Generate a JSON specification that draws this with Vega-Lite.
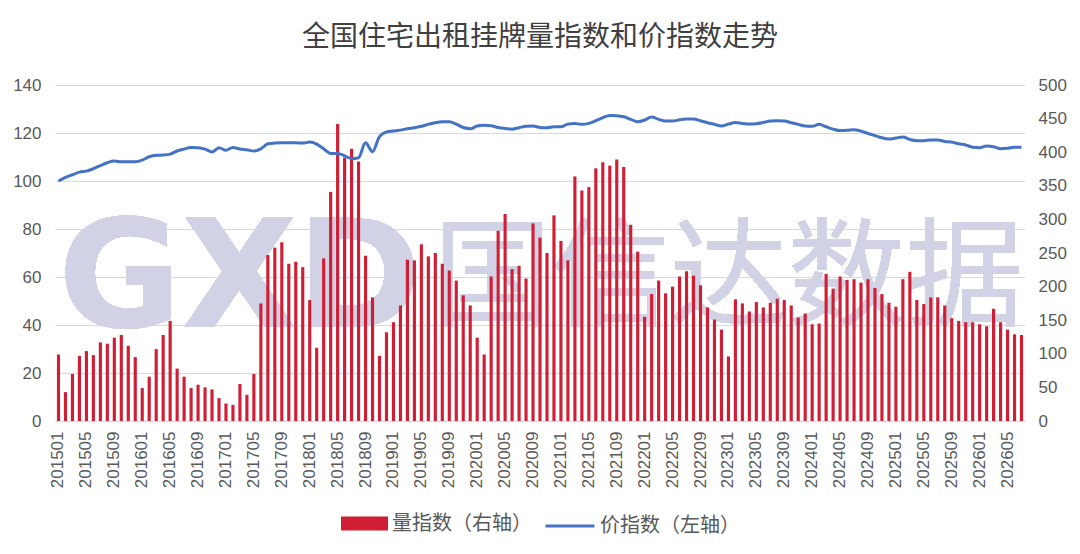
{
  "$schema": "https://vega.github.io/schema/vega-lite/v6.json",
  "autosize": "none",
  "width": 970,
  "height": 336,
  "padding": {"left": 55, "top": 85, "right": 55, "bottom": 133},
  "background": "white",
  "title": {"text": "全国住宅出租挂牌量指数和价指数走势", "font": "Noto Sans CJK SC", "fontSize": 28, "fontWeight": "normal", "color": "#404040", "anchor": "middle", "offset": 24},
  "data": {"values": [
    {"month":"201501","vol":99,"price":100.0},{"month":"201502","vol":43,"price":101.5},{"month":"201503","vol":70,"price":102.6},{"month":"201504","vol":97,"price":103.7},
    {"month":"201505","vol":104,"price":104.1},{"month":"201506","vol":98,"price":105.1},{"month":"201507","vol":117,"price":106.4},{"month":"201508","vol":115,"price":107.6},
    {"month":"201509","vol":124,"price":108.3},{"month":"201510","vol":128,"price":108.0},{"month":"201511","vol":112,"price":108.0},{"month":"201512","vol":95,"price":108.0},
    {"month":"201601","vol":49,"price":108.7},{"month":"201602","vol":66,"price":110.1},{"month":"201603","vol":107,"price":110.7},{"month":"201604","vol":128,"price":110.8},
    {"month":"201605","vol":149,"price":111.2},{"month":"201606","vol":78,"price":112.5},{"month":"201607","vol":66,"price":113.3},{"month":"201608","vol":49,"price":114.0},
    {"month":"201609","vol":54,"price":113.9},{"month":"201610","vol":50,"price":113.3},{"month":"201611","vol":47,"price":112.1},{"month":"201612","vol":34,"price":113.9},
    {"month":"201701","vol":26,"price":112.8},{"month":"201702","vol":24,"price":114.0},{"month":"201703","vol":55,"price":113.3},{"month":"201704","vol":39,"price":113.0},
    {"month":"201705","vol":70,"price":112.5},{"month":"201706","vol":175,"price":113.4},{"month":"201707","vol":247,"price":115.5},{"month":"201708","vol":258,"price":115.8},
    {"month":"201709","vol":266,"price":115.9},{"month":"201710","vol":234,"price":115.9},{"month":"201711","vol":237,"price":115.9},{"month":"201712","vol":229,"price":115.8},
    {"month":"201801","vol":180,"price":116.2},{"month":"201802","vol":109,"price":115.4},{"month":"201803","vol":242,"price":113.4},{"month":"201804","vol":341,"price":111.5},
    {"month":"201805","vol":442,"price":111.5},{"month":"201806","vol":392,"price":110.5},{"month":"201807","vol":405,"price":109.3},{"month":"201808","vol":386,"price":109.7},
    {"month":"201809","vol":246,"price":115.9},{"month":"201810","vol":184,"price":112.2},{"month":"201811","vol":97,"price":118.5},{"month":"201812","vol":132,"price":120.4},
    {"month":"201901","vol":147,"price":120.8},{"month":"201902","vol":172,"price":121.2},{"month":"201903","vol":240,"price":121.8},{"month":"201904","vol":239,"price":122.2},
    {"month":"201905","vol":263,"price":122.8},{"month":"201906","vol":245,"price":123.6},{"month":"201907","vol":250,"price":124.3},{"month":"201908","vol":234,"price":124.7},
    {"month":"201909","vol":224,"price":124.7},{"month":"201910","vol":209,"price":123.7},{"month":"201911","vol":187,"price":122.3},{"month":"201912","vol":172,"price":121.8},
    {"month":"202001","vol":124,"price":122.9},{"month":"202002","vol":99,"price":123.2},{"month":"202003","vol":215,"price":123.0},{"month":"202004","vol":283,"price":122.3},
    {"month":"202005","vol":308,"price":121.9},{"month":"202006","vol":226,"price":121.6},{"month":"202007","vol":231,"price":122.2},{"month":"202008","vol":212,"price":122.8},
    {"month":"202009","vol":294,"price":122.9},{"month":"202010","vol":273,"price":122.3},{"month":"202011","vol":250,"price":122.2},{"month":"202012","vol":306,"price":122.6},
    {"month":"202101","vol":268,"price":122.6},{"month":"202102","vol":239,"price":123.7},{"month":"202103","vol":364,"price":124.0},{"month":"202104","vol":343,"price":123.6},
    {"month":"202105","vol":348,"price":124.0},{"month":"202106","vol":376,"price":125.1},{"month":"202107","vol":385,"price":126.4},{"month":"202108","vol":380,"price":127.3},
    {"month":"202109","vol":389,"price":127.2},{"month":"202110","vol":378,"price":126.8},{"month":"202111","vol":292,"price":125.7},{"month":"202112","vol":252,"price":124.7},
    {"month":"202201","vol":155,"price":125.4},{"month":"202202","vol":189,"price":126.7},{"month":"202203","vol":209,"price":125.7},{"month":"202204","vol":190,"price":125.0},
    {"month":"202205","vol":200,"price":125.0},{"month":"202206","vol":215,"price":125.5},{"month":"202207","vol":223,"price":125.8},{"month":"202208","vol":216,"price":125.8},
    {"month":"202209","vol":202,"price":125.1},{"month":"202210","vol":169,"price":124.3},{"month":"202211","vol":151,"price":123.6},{"month":"202212","vol":136,"price":122.9},
    {"month":"202301","vol":96,"price":123.7},{"month":"202302","vol":181,"price":124.4},{"month":"202303","vol":175,"price":124.0},{"month":"202304","vol":163,"price":123.7},
    {"month":"202305","vol":177,"price":123.9},{"month":"202306","vol":169,"price":124.4},{"month":"202307","vol":176,"price":125.0},{"month":"202308","vol":182,"price":125.1},
    {"month":"202309","vol":180,"price":125.0},{"month":"202310","vol":172,"price":124.3},{"month":"202311","vol":154,"price":123.6},{"month":"202312","vol":160,"price":122.9},
    {"month":"202401","vol":144,"price":122.8},{"month":"202402","vol":145,"price":123.6},{"month":"202403","vol":219,"price":122.6},{"month":"202404","vol":197,"price":121.6},
    {"month":"202405","vol":215,"price":121.0},{"month":"202406","vol":210,"price":121.1},{"month":"202407","vol":211,"price":121.4},{"month":"202408","vol":206,"price":120.8},
    {"month":"202409","vol":211,"price":119.8},{"month":"202410","vol":198,"price":118.9},{"month":"202411","vol":189,"price":118.0},{"month":"202412","vol":176,"price":117.5},
    {"month":"202501","vol":170,"price":117.9},{"month":"202502","vol":211,"price":118.3},{"month":"202503","vol":222,"price":117.3},{"month":"202504","vol":180,"price":116.8},
    {"month":"202505","vol":174,"price":116.8},{"month":"202506","vol":184,"price":117.1},{"month":"202507","vol":184,"price":117.1},{"month":"202508","vol":172,"price":116.5},
    {"month":"202509","vol":153,"price":116.2},{"month":"202510","vol":149,"price":115.5},{"month":"202511","vol":147,"price":115.0},{"month":"202512","vol":147,"price":114.1},
    {"month":"202601","vol":144,"price":113.9},{"month":"202602","vol":141,"price":114.6},{"month":"202603","vol":167,"price":114.3},{"month":"202604","vol":147,"price":113.4},
    {"month":"202605","vol":136,"price":113.6},{"month":"202606","vol":129,"price":114.1},{"month":"202607","vol":128,"price":114.1}
  ]},
  "encoding": {
    "x": {
      "field": "month", "type": "ordinal",
      "scale": {"paddingInner": 0, "paddingOuter": 0},
      "axis": {
        "title": null,
        "values": ["201501","201505","201509","201601","201605","201609","201701","201705","201709","201801","201805","201809","201901","201905","201909","202001","202005","202009","202101","202105","202109","202201","202205","202209","202301","202305","202309","202401","202405","202409","202501","202505","202509","202601","202605"],
        "labelAngle": -90, "labelFontSize": 17, "labelFont": "Liberation Sans", "labelColor": "#595959",
        "ticks": false, "domainColor": "#d9d9d9", "domainWidth": 1, "labelPadding": 10, "grid": false
      }
    }
  },
  "layer": [
    {
      "layer": [
        {
          "mark": {"type": "text", "font": "DejaVu Sans", "fontWeight": "bold", "fontSize": 150, "fill": "#D2D2E6", "baseline": "middle", "align": "center"},
          "encoding": {
            "x": {"datum": "201703", "type": "ordinal"},
            "y": {"datum": 207, "type": "quantitative",
              "axis": {"orient": "right", "title": null, "values": [0,50,100,150,200,250,300,350,400,450,500], "grid": false, "domain": false, "ticks": false, "labelPadding": 13, "labelFontSize": 17, "labelFont": "Liberation Sans", "labelColor": "#595959"}},
            "text": {"value": "GXD"}
          }
        },
        {
          "mark": {"type": "text", "font": "Noto Sans CJK SC", "fontSize": 118, "fill": "#D2D2E6", "baseline": "middle", "align": "center"},
          "encoding": {
            "x": {"datum": "202301", "type": "ordinal"},
            "y": {"datum": 207, "type": "quantitative",
              "axis": {"orient": "right", "title": null, "values": [0,50,100,150,200,250,300,350,400,450,500], "grid": false, "domain": false, "ticks": false, "labelPadding": 13, "labelFontSize": 17, "labelFont": "Liberation Sans", "labelColor": "#595959"}},
            "text": {"value": "国信达数据"}
          }
        },
        {
          "mark": {"type": "bar", "width": {"band": 0.45}},
          "encoding": {
            "y": {
              "field": "vol", "type": "quantitative",
              "scale": {"domain": [0, 500], "nice": false},
              "axis": {"orient": "right", "title": null, "values": [0,50,100,150,200,250,300,350,400,450,500], "grid": false, "domain": false, "ticks": false, "labelPadding": 13, "labelFontSize": 17, "labelFont": "Liberation Sans", "labelColor": "#595959"}
            },
            "fill": {
              "datum": "量指数（右轴）",
              "scale": {"range": ["#D01E35"]},
              "legend": {"title": null, "orient": "bottom", "symbolType": "M-1,-0.3H1V0.3H-1Z", "symbolSize": 2209, "symbolStrokeWidth": 0, "labelFontSize": 20, "labelFont": "Noto Sans CJK SC", "labelColor": "#595959", "labelLimit": 300, "offset": 12}
            }
          }
        }
      ]
    },
    {
      "mark": {"type": "line", "strokeWidth": 3, "interpolate": "monotone"},
      "encoding": {
        "y": {
          "field": "price", "type": "quantitative",
          "scale": {"domain": [0, 140], "nice": false},
          "axis": {"orient": "left", "title": null, "values": [0,20,40,60,80,100,120,140], "grid": true, "gridColor": "#d9d9d9", "gridWidth": 1, "domain": false, "ticks": false, "labelPadding": 14, "labelFontSize": 17, "labelFont": "Liberation Sans", "labelColor": "#595959"}
        },
        "stroke": {
          "datum": "价指数（左轴）",
          "scale": {"range": ["#4472C4"]},
          "legend": {"title": null, "orient": "bottom", "symbolType": "stroke", "symbolSize": 2400, "symbolStrokeWidth": 3, "labelFontSize": 20, "labelFont": "Noto Sans CJK SC", "labelColor": "#595959", "labelLimit": 300, "offset": 12}
        }
      }
    }
  ],
  "resolve": {"scale": {"y": "independent"}},
  "config": {
    "view": {"stroke": null},
    "legend": {"layout": {"bottom": {"anchor": "middle", "direction": "horizontal", "margin": 12}}}
  }
}
